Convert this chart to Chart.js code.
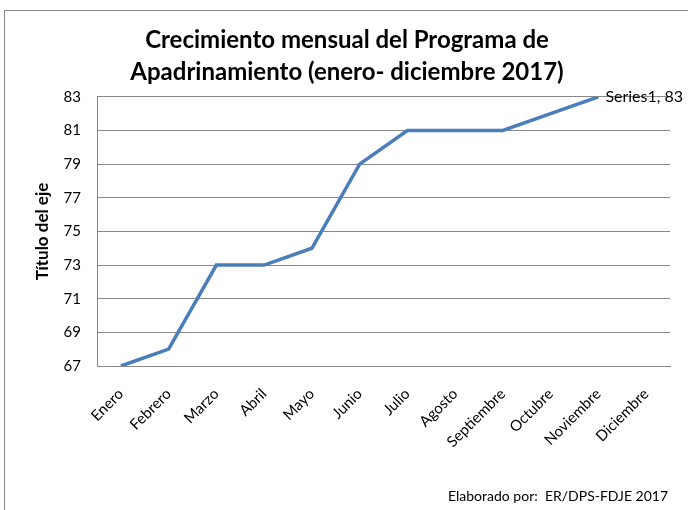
<!DOCTYPE html>
<html>
<head>
<meta charset="utf-8">
<script src="https://cdn.jsdelivr.net/npm/chart.js@4/dist/chart.umd.min.js"></script>
<style>
    body { margin: 0; background: #fff; }
    #wrap { position: relative; width: 688px; height: 510px; overflow: hidden; }
    #frame { position: absolute; left: 4px; top: 10px; width: 720px; height: 560px; border: 1px solid #888; box-sizing: border-box; }
    #chart { position: absolute; left: 0; top: 0; }
    #footer { position: absolute; left: 448px; top: 487px; font: 14px Lato, sans-serif; color: #000; white-space: nowrap; }
</style>
</head>
<body>
<div id="wrap">
    <div id="frame"></div>
    <canvas id="chart" width="688" height="510"></canvas>
    <div id="footer">Elaborado por:&nbsp; ER/DPS-FDJE 2017</div>
</div>
<script>
// chart data
const months = ["Enero", "Febrero", "Marzo", "Abril", "Mayo", "Junio", "Julio",
    "Agosto", "Septiembre", "Octubre", "Noviembre", "Diciembre"];
const series1 = [67, 68, 73, 73, 74, 79, 81, 81, 81, 82, 83, null];
const titleLines = ["Crecimiento mensual del Programa de", "Apadrinamiento (enero- diciembre 2017)"];
const yTitle = "Título del eje";
const seriesName = "Series1";

// label on the last point, like Excel's data label
const lastLabel = {
    id: "lastLabel",
    afterDatasetsDraw(chart) {
        const meta = chart.getDatasetMeta(0);
        let idx = -1;
        series1.forEach((v, i) => { if (v !== null) idx = i; });
        if (idx < 0) return;
        const pt = meta.data[idx];
        const ctx = chart.ctx;
        ctx.save();
        ctx.font = "16px Lato, sans-serif";
        ctx.fillStyle = "#000";
        ctx.textAlign = "left";
        ctx.textBaseline = "middle";
        ctx.fillText(seriesName + ", " + series1[idx], pt.x + 7, pt.y);
        ctx.restore();
    }
};

const ctx = document.getElementById("chart").getContext("2d");
new Chart(ctx, {
    type: "line",
    data: {
        labels: months,
        datasets: [{
            label: seriesName,
            data: series1,
            borderColor: "#4A7EBB",
            borderWidth: 3.5,
            pointRadius: 0,
            fill: false,
            tension: 0
        }]
    },
    options: {
        responsive: false,
        animation: false,
        layout: { padding: { left: 24, right: 18, top: 0, bottom: 0 } },
        plugins: {
            legend: { display: false },
            tooltip: { enabled: false },
            title: {
                display: true,
                text: titleLines,
                color: "#000",
                font: { family: "Lato, sans-serif", size: 24, weight: "bold", lineHeight: 1.33 },
                padding: { top: 24, bottom: 9 }
            }
        },
        scales: {
            x: {
                offset: true,
                grid: { display: false },
                border: { display: true, color: "#888", width: 1 },
                ticks: {
                    color: "#000",
                    font: { family: "Lato, sans-serif", size: 15 },
                    minRotation: 45,
                    maxRotation: 45,
                    padding: 11
                },
                afterFit(scale) { scale.height = 144; }
            },
            y: {
                min: 67,
                max: 83,
                grid: { color: "#888", drawTicks: false },
                border: { display: true, color: "#888", width: 1 },
                ticks: {
                    stepSize: 2,
                    color: "#000",
                    font: { family: "Lato, sans-serif", size: 15 },
                    padding: 16
                },
                title: {
                    display: true,
                    text: yTitle,
                    color: "#000",
                    font: { family: "Lato, sans-serif", size: 17, weight: "bold" },
                    padding: { top: 8, bottom: 0 }
                },
                afterFit(scale) { scale.width = 73; }
            }
        }
    },
    plugins: [lastLabel]
});
</script>
</body>
</html>
